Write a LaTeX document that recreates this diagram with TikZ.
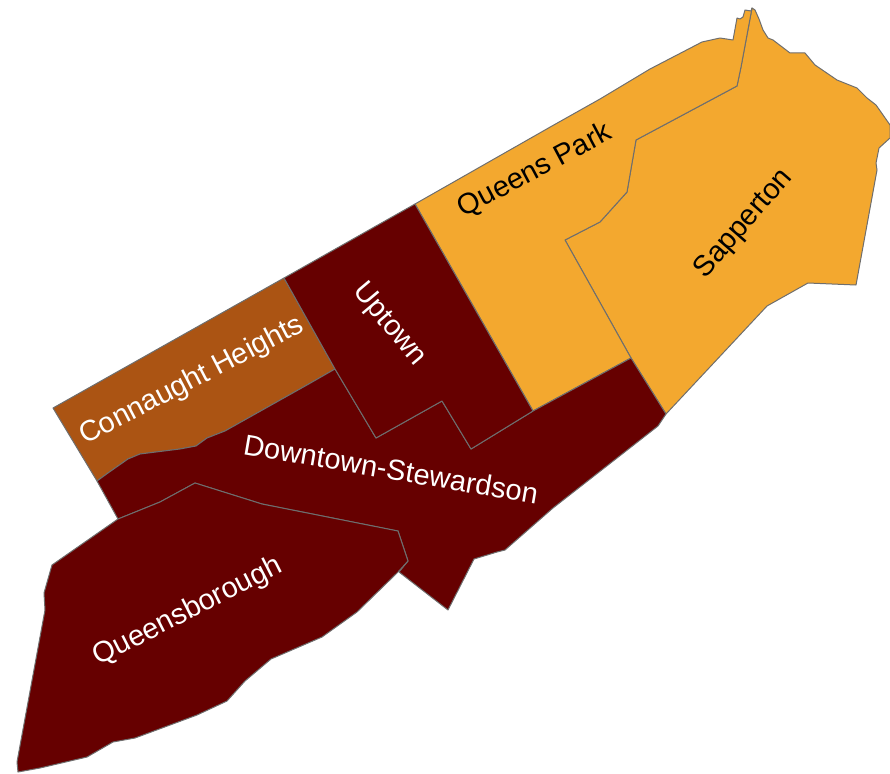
\documentclass[tikz,border=0pt]{standalone}
\usepackage{fontspec}
\setmainfont{Liberation Sans}
\definecolor{maroon}{HTML}{660000}
\definecolor{amber}{HTML}{F3A82F}
\definecolor{rust}{HTML}{AB5413}
\definecolor{edge}{HTML}{6E6E6E}
\tikzset{
  area/.style={draw=edge,line width=1pt,line join=round},
  lab/.style={inner sep=0pt,font=\fontsize{29}{33}\selectfont},
  labw/.style={lab,text=white},
  labk/.style={lab,text=black}
}
\begin{document}
\begin{tikzpicture}[x=1pt,y=-1pt]
\useasboundingbox (0,0) rectangle (890,773);
% Sapperton
\filldraw[area,fill=amber] (752,8) -- (755,10) -- (759,19) -- (763,30) -- (768,38) -- (773,40) -- (790,53) -- (805,53) -- (815,65) -- (837,80) -- (857,88) -- (867,98) -- (876,105) -- (890,125) -- (890,138) -- (879,148) -- (876,163) -- (877,170) -- (856,285) -- (808,283) -- (767,306) -- (666,414) -- (631,358) -- (565,240) -- (600,222) -- (627,192) -- (636,140) -- (737,86) -- (741,67) -- cycle;
% Queens Park
\filldraw[area,fill=amber] (415,204) -- (552,126) -- (600,99) -- (650,69) -- (702,42) -- (720,38) -- (733,40) -- (737,18) -- (740,19) -- (743,17) -- (745,10) -- (751,11) -- (752,8) -- (741,67) -- (737,86) -- (636,140) -- (627,192) -- (600,222) -- (565,240) -- (631,358) -- (533,411) -- cycle;
% Connaught Heights
\filldraw[area,fill=rust] (53,408) -- (284,278) -- (335,369) -- (307,385) -- (225,431) -- (207,438) -- (196,446) -- (180,449) -- (140,454) -- (128,459) -- (108,473) -- (97,481) -- cycle;
% Downtown-Stewardson
\filldraw[area,fill=maroon] (97,481) -- (108,473) -- (128,459) -- (140,454) -- (180,449) -- (196,446) -- (207,438) -- (225,431) -- (307,385) -- (335,369) -- (376,438) -- (442,401) -- (471,449) -- (533,411) -- (631,358) -- (666,414) -- (658,426) -- (553,508) -- (505,550) -- (497,552) -- (474,559) -- (448,610) -- (399,572) -- (408,561) -- (398,531) -- (262,504) -- (195,483) -- (160,502) -- (118,519) -- cycle;
% Uptown
\filldraw[area,fill=maroon] (284,278) -- (415,204) -- (533,411) -- (471,449) -- (442,401) -- (376,438) -- (335,369) -- cycle;
% Queensborough
\filldraw[area,fill=maroon] (118,519) -- (160,502) -- (195,483) -- (262,504) -- (398,531) -- (408,561) -- (398,572) -- (357,612) -- (322,637) -- (271,659) -- (245,681) -- (227,701) -- (197,715) -- (135,738) -- (113,742) -- (87,757) -- (40,768) -- (18,772) -- (17,762) -- (45,610) -- (44,593) -- (50,572) -- (52,565) -- cycle;
% Labels
\node[labw,rotate=27.5] (connaught) at (192,381) {Connaught Heights};
\node[labw,rotate=-50] (uptown) at (389,325) {Uptown};
\node[labk,rotate=28] (queenspark) at (535,171) {Queens Park};
\node[labk,rotate=49] (sapperton) at (744,224) {Sapperton};
\node[labw,rotate=-9.7] (downtown) at (391,469) {Downtown-Stewardson};
\node[labw,rotate=27] (queensborough) at (188,612) {Queensborough};
\end{tikzpicture}
\end{document}
